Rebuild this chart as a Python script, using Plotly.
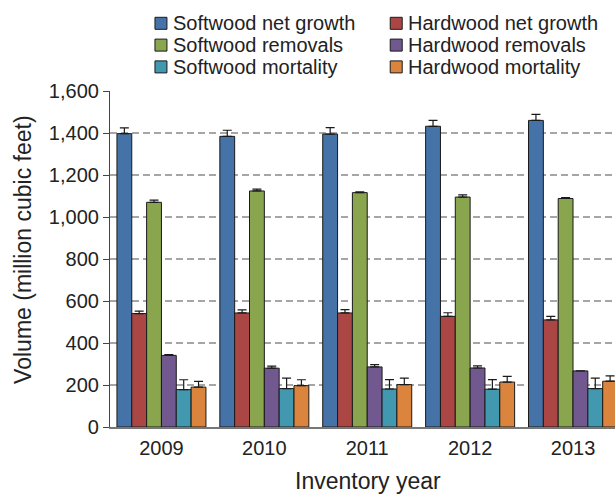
import plotly.graph_objects as go

years = ["2009", "2010", "2011", "2012", "2013"]

series_names = [
    "Softwood net growth", "Hardwood net growth",
    "Softwood removals", "Hardwood removals",
    "Softwood mortality", "Hardwood mortality",
]
sw_growth = [1397, 1384, 1395, 1432, 1460]
sw_growth_err = [27, 29, 31, 28, 29]
hw_growth = [540, 543, 543, 527, 510]
hw_growth_err = [12, 15, 16, 17, 17]
sw_removals = [1070, 1124, 1116, 1095, 1088]
sw_removals_err = [10, 9, 4, 10, 4]
hw_removals = [341, 280, 286, 281, 267]
hw_removals_err = [4, 10, 11, 10, 0]
sw_mortality = [178, 183, 181, 180, 183]
sw_mortality_err = [47, 50, 45, 46, 50]
hw_mortality = [190, 197, 202, 214, 218]
hw_mortality_err = [27, 28, 31, 27, 25]

values = [sw_growth, hw_growth, sw_removals, hw_removals, sw_mortality, hw_mortality]
errors = [sw_growth_err, hw_growth_err, sw_removals_err, hw_removals_err,
          sw_mortality_err, hw_mortality_err]
colors = ["#4572A7", "#AA4643", "#89A54E", "#71588F", "#4198AF", "#DB843D"]

FONT = "Liberation Sans, Arial, sans-serif"
TXT = "#222222"

fig = go.Figure()
for name, vals, err, col in zip(series_names, values, errors, colors):
    fig.add_trace(go.Bar(
        x=years, y=vals, name=name,
        marker=dict(color=col, line=dict(color="#1a1a1a", width=1)),
        error_y=dict(type="data", array=err, arrayminus=[0] * len(err),
                     symmetric=False, color="#1a1a1a", thickness=1.2, width=4.5),
    ))

L, T, B = 109.5, 90.7, 67.3
W, H = 615, 494
plot_w = W - L
plot_h = H - T - B


def px_x(x):
    return (x - L) / plot_w


def px_y(y):
    return (H - B - y) / plot_h


# manual legend (2 columns x 3 rows), built from the series names / colours
shapes = []
annotations = []
col_marker_x = [154.5, 390.0]
col_text_x = [171.0, 406.0]
row_y = [23.0, 44.8, 66.6]
for i, (name, col) in enumerate(zip(series_names, colors)):
    c, r = i % 2, i // 2
    mx, my = col_marker_x[c], row_y[r]
    shapes.append(dict(type="rect", xref="paper", yref="paper",
                       x0=px_x(mx), x1=px_x(mx + 12), y0=px_y(my + 6), y1=px_y(my - 6),
                       fillcolor=col, line=dict(color="#1a1a1a", width=1)))
    annotations.append(dict(text=name, xref="paper", yref="paper",
                            x=px_x(col_text_x[c]), y=px_y(my),
                            xanchor="left", yanchor="middle", showarrow=False,
                            font=dict(family=FONT, size=20, color=TXT)))

annotations += [
    dict(text="Volume (million cubic feet)", textangle=-90,
         xref="paper", yref="paper", x=px_x(23), y=px_y(250),
         xanchor="center", yanchor="middle", showarrow=False,
         font=dict(family=FONT, size=23, color=TXT)),
    dict(text="Inventory year",
         xref="paper", yref="paper", x=px_x(368), y=px_y(481),
         xanchor="center", yanchor="middle", showarrow=False,
         font=dict(family=FONT, size=23, color=TXT)),
]

fig.update_layout(
    width=W, height=H,
    margin=dict(l=L, r=0, t=T, b=B, pad=0),
    paper_bgcolor="white", plot_bgcolor="white",
    barmode="group", bargap=0.135, bargroupgap=0,
    font=dict(family=FONT, size=20, color=TXT),
    showlegend=False,
    xaxis=dict(
        type="category", range=[-0.5, 4.408],
        showline=True, linecolor="#777777", linewidth=1.5,
        ticks="outside", ticklen=2, tickcolor="rgba(0,0,0,0)",
        tickfont=dict(family=FONT, size=20, color=TXT),
        showgrid=False, zeroline=False,
    ),
    yaxis=dict(
        range=[0, 1600], dtick=200, tickformat=",d",
        showline=True, linecolor="#444444", linewidth=1.2,
        ticks="outside", ticklen=6, tickcolor="#444444",
        tickfont=dict(family=FONT, size=20, color=TXT),
        showgrid=True, gridcolor="#A6A6A6", gridwidth=1.6, griddash="7px,4px",
        zeroline=False,
    ),
    shapes=shapes,
    annotations=annotations,
)

fig.write_html("out.html")
